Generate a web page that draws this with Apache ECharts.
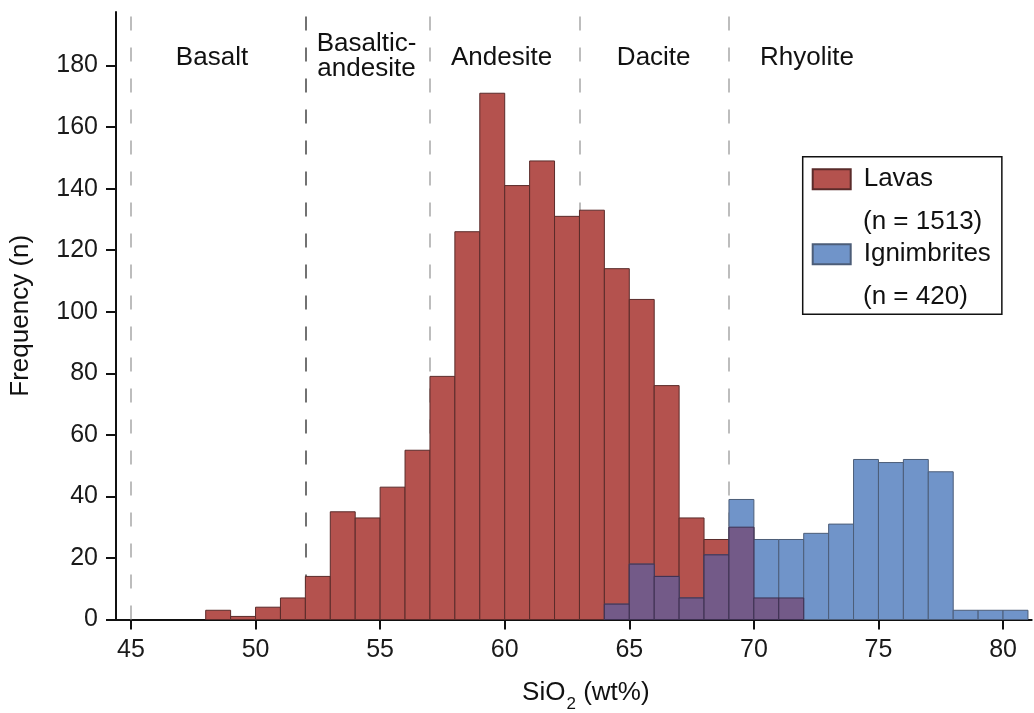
<!DOCTYPE html>
<html>
<head>
<meta charset="utf-8">
<script src="https://cdn.jsdelivr.net/npm/echarts@6/dist/echarts.min.js"></script>
<style>
  html, body { margin: 0; padding: 0; background: #ffffff; }
  #chart { width: 1034px; height: 713px; }
</style>
</head>
<body>
<div id="chart"></div>
<script>
// Left edge of each 1 wt% SiO2 bin
const binStarts = [45, 46, 47, 48, 49, 50, 51, 52, 53, 54, 55, 56, 57, 58, 59, 60, 61, 62,
                   63, 64, 65, 66, 67, 68, 69, 70, 71, 72, 73, 74, 75, 76, 77, 78, 79, 80];
const binWidth = 1;

// Sample counts per bin
const lavaCounts = [0, 0, 0, 3, 1, 4, 7, 14, 35, 33, 43, 55, 79, 126, 171, 141, 149, 131,
                    133, 114, 104, 76, 33, 26, 30, 7, 7, 0, 0, 0, 0, 0, 0, 0, 0, 0];
const ignimbriteCounts = [0, 0, 0, 0, 0, 0, 0, 0, 0, 0, 0, 0, 0, 0, 0, 0, 0, 0,
                          0, 5, 18, 14, 7, 21, 39, 26, 26, 28, 31, 52, 51, 52, 48, 3, 3, 3];

const seriesNames = ['Lavas', 'Ignimbrites'];
const sampleSizes = [1513, 420];

// Axis ticks
const xTickValues = [45, 50, 55, 60, 65, 70, 75, 80];
const yTickValues = [0, 20, 40, 60, 80, 100, 120, 140, 160, 180];

// Rock classification boundaries (wt% SiO2) and zone names
const zoneBoundaries = [45, 52, 57, 63, 69];
const zoneNames = ['Basalt', 'Basaltic-\nandesite', 'Andesite', 'Dacite', 'Rhyolite'];

const FONT = "'Liberation Sans', Arial, Helvetica, sans-serif";
const RED = '#b4524e';
const BLUE = '#7094c9';
const PURPLE = '#735a88';

// Bins where both groups overlap, drawn in a blended tone
const overlapCounts = binStarts.map((_, i) => Math.min(lavaCounts[i], ignimbriteCounts[i]));

function toBins(counts) {
  return binStarts
    .map((x, i) => [x, x + binWidth, counts[i]])
    .filter(d => d[2] > 0);
}

function renderBin(params, api) {
  const x0 = api.value(0), x1 = api.value(1), n = api.value(2);
  const base = api.coord([x0, 0]);
  const top = api.coord([x1, n]);
  return {
    type: 'rect',
    shape: { x: base[0], y: top[1], width: top[0] - base[0], height: base[1] - top[1] },
    style: api.style()
  };
}

const chart = echarts.init(document.getElementById('chart'), null, { renderer: 'canvas' });

// Zone label anchors (pixel layout)
const zoneLabelPos = [[212, 58], [366.5, 56], [501.5, 58], [653.7, 58], [807, 58]];

const graphics = zoneNames.map((name, i) => ({
  type: 'text',
  x: zoneLabelPos[i][0],
  y: zoneLabelPos[i][1],
  silent: true,
  style: {
    text: name,
    fontFamily: FONT,
    fontSize: 26,
    lineHeight: 25,
    fill: '#111',
    align: 'center',
    verticalAlign: 'middle'
  }
}));

// Sample size lines inside the legend box
const nLinePos = [[863, 222], [863, 297]];
sampleSizes.forEach((n, i) => {
  graphics.push({
    type: 'text',
    x: nLinePos[i][0],
    y: nLinePos[i][1],
    silent: true,
    z: 100,
    style: {
      text: '(n = ' + n + ')',
      fontFamily: FONT,
      fontSize: 26,
      fill: '#111',
      align: 'left',
      verticalAlign: 'middle'
    }
  });
});

const option = {
  animation: false,
  backgroundColor: '#ffffff',
  textStyle: { fontFamily: FONT },
  grid: {
    left: 116, right: 2.3, top: 12, bottom: 93.5,
    containLabel: false,
    outerBoundsMode: 'none'
  },
  legend: {
    data: seriesNames,
    orient: 'vertical',
    left: 802.7,
    top: 156.7,
    padding: [9.5, 11, 47, 9],
    itemWidth: 38,
    itemHeight: 20,
    itemGap: 49,
    icon: 'rect',
    borderColor: '#111',
    borderWidth: 1.5,
    selectedMode: false,
    textStyle: { fontFamily: FONT, fontSize: 26, color: '#111', padding: [0, 0, 0, 8] }
  },
  xAxis: {
    type: 'value',
    min: 44.4,
    max: 81.15,
    name: '{t|SiO}{s|2}{t| (wt%)}',
    nameLocation: 'middle',
    nameGap: 54,
    nameTextStyle: {
      padding: [0, 0, 0, 24],
      rich: {
        t: { fontFamily: FONT, fontSize: 26, color: '#111' },
        s: { fontFamily: FONT, fontSize: 17, color: '#111', padding: [22, 0, 0, 1] }
      }
    },
    axisLine: { onZero: false, lineStyle: { color: '#111', width: 2 } },
    axisTick: { show: true, inside: false, length: 10, lineStyle: { color: '#111', width: 2 }, customValues: xTickValues },
    axisLabel: { customValues: xTickValues, margin: 18, fontFamily: FONT, fontSize: 25, color: '#1a1a1a' },
    splitLine: { show: false }
  },
  yAxis: {
    type: 'value',
    min: 0,
    max: 197.4,
    name: 'Frequency (n)',
    nameLocation: 'middle',
    nameGap: 82,
    nameTextStyle: { fontFamily: FONT, fontSize: 26, color: '#111' },
    axisLine: { show: true, onZero: false, lineStyle: { color: '#111', width: 2 } },
    axisTick: { show: true, inside: false, length: 10, lineStyle: { color: '#111', width: 2 }, customValues: yTickValues },
    axisLabel: { customValues: yTickValues, margin: 18, fontFamily: FONT, fontSize: 25, color: '#1a1a1a' },
    splitLine: { show: false }
  },
  graphic: graphics,
  series: [
    {
      name: 'zones',
      type: 'line',
      data: [],
      z: 1,
      silent: true,
      markLine: {
        z: 1,
        silent: true,
        symbol: ['none', 'none'],
        label: { show: false },
        animation: false,
        data: zoneBoundaries.map(b => ({
          xAxis: b,
          lineStyle: { color: b === 52 ? '#444' : '#a8a8a8', width: 1.5, type: [14, 17] }
        }))
      }
    },
    {
      name: seriesNames[0],
      type: 'custom',
      z: 10,
      renderItem: renderBin,
      encode: { x: [0, 1], y: 2 },
      itemStyle: { color: RED, borderColor: '#5a2b2a', borderWidth: 1 },
      data: toBins(lavaCounts)
    },
    {
      name: seriesNames[1],
      type: 'custom',
      z: 11,
      renderItem: renderBin,
      encode: { x: [0, 1], y: 2 },
      itemStyle: { color: BLUE, borderColor: '#4c5d78', borderWidth: 1 },
      data: toBins(ignimbriteCounts)
    },
    {
      name: 'overlap',
      type: 'custom',
      z: 12,
      renderItem: renderBin,
      encode: { x: [0, 1], y: 2 },
      itemStyle: { color: PURPLE, borderColor: '#3d3050', borderWidth: 1 },
      data: toBins(overlapCounts)
    }
  ]
};

chart.setOption(option);
</script>
</body>
</html>
